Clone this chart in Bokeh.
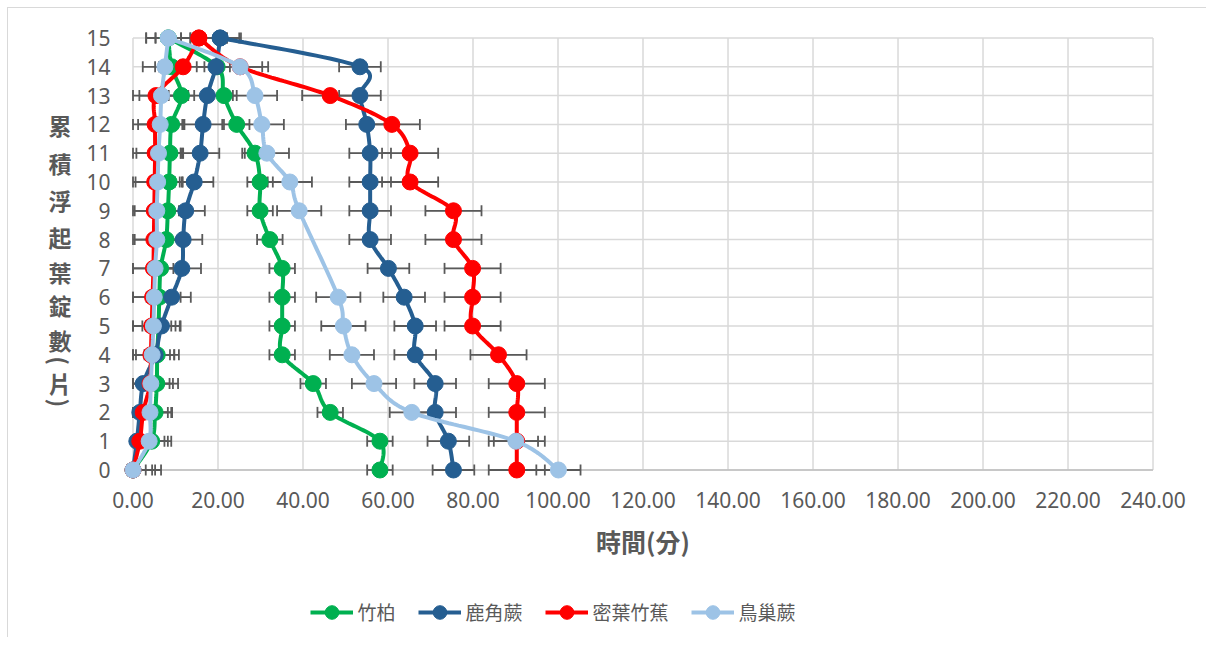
import math
import numpy as np
from bokeh.plotting import figure
from bokeh.models import Range1d, Legend, LegendItem, Whisker, TeeHead, ColumnDataSource
from bokeh.core.properties import value
from bokeh.embed import file_html
from bokeh.resources import INLINE

# ---------------- data ----------------
counts = list(range(16))  # cumulative number of floating leaf discs (y)
y_tick_labels = [str(c) for c in counts]
x_ticks = [0, 20, 40, 60, 80, 100, 120, 140, 160, 180, 200, 220, 240]
x_tick_labels = [f"{v:.2f}" for v in x_ticks]

series_names = ["竹柏", "鹿角蕨", "密葉竹蕉", "鳥巢蕨"]

# time (min) at which each count was reached; two curves per species
bamboo_fast = [0, 4.4, 5.2, 5.6, 5.7, 6.0, 6.2, 6.5, 7.8, 8.2, 8.5, 8.7, 9.1, 11.4, 9.1, 8.3]
bamboo_slow = [58.1, 58.1, 46.4, 42.4, 35.1, 35.1, 35.1, 35.1, 32.2, 29.9, 29.9, 28.7, 24.4, 21.4, 19.8, 8.3]
staghorn_fast = [0, 0.9, 1.6, 2.4, 5.2, 6.7, 9.1, 11.5, 11.8, 12.4, 14.4, 15.8, 16.5, 17.5, 19.5, 20.5]
staghorn_slow = [75.4, 74.2, 71.1, 71.1, 66.4, 66.4, 63.8, 60.1, 55.8, 55.8, 55.8, 55.8, 55.0, 53.4, 53.4, 20.5]
dracaena_fast = [0, 1.6, 2.4, 4.0, 4.2, 4.4, 4.6, 4.8, 4.9, 5.0, 5.1, 5.2, 5.2, 5.4, 11.8, 15.5]
dracaena_slow = [90.3, 90.3, 90.3, 90.3, 86.0, 79.9, 79.9, 79.9, 75.4, 75.4, 65.2, 65.2, 60.9, 46.4, 25.2, 15.5]
birdnest_fast = [0, 3.8, 4.0, 4.2, 4.5, 4.8, 5.0, 5.2, 5.6, 5.6, 5.8, 6.0, 6.4, 6.7, 7.5, 8.3]
birdnest_slow = [100.1, 90.1, 65.6, 56.7, 51.5, 49.5, 48.3, None, None, 39.1, 36.9, 31.5, 30.3, 28.7, 25.2, 8.3]

# error (± min) per species
bamboo_err = [3.0] * 16
staghorn_fast_err = [4.5] * 16
staghorn_slow_err = [4.9] * 16
dracaena_err = [6.6] * 16
birdnest_err = [5.2] * 16

# vertical y-axis title "累積浮起葉錠數(片)", one upright character per line
ylabel_chars = ["累", "積", "浮", "起", "葉", "錠", "數", "(", "片", ")"]
ylabel_pos = [11.98, 10.66, 9.38, 8.09, 6.88, 5.73, 4.51, 3.80, 3.02, 2.33]
ylabel_rot = [0, 0, 0, 0, 0, 0, 0, -math.pi / 2, 0, -math.pi / 2]
x_title = "時間(分)"

colors = ["#00B050", "#255E91", "#FF0000", "#9DC3E6"]
TEXT = "#595959"
GRID = "#d9d9d9"
CJK = "Noto Sans CJK TC"

groups = [
    (bamboo_fast, bamboo_slow, bamboo_err, bamboo_err),
    (staghorn_fast, staghorn_slow, staghorn_fast_err, staghorn_slow_err),
    (dracaena_fast, dracaena_slow, dracaena_err, dracaena_err),
    (birdnest_fast, birdnest_slow, birdnest_err, birdnest_err),
]


def smooth(xs, ys, n=24):
    pts = np.array([(x, y) for x, y in zip(xs, ys) if x is not None], float)
    P = np.vstack([pts[0], pts, pts[-1]])
    outx, outy = [], []
    m = len(P)
    for i in range(1, m - 2):
        p0, p1, p2, p3 = P[i - 1], P[i], P[i + 1], P[i + 2]
        c1 = p1 + (p2 - p0) / 6.0
        c2 = p2 - (p3 - p1) / 6.0
        t = np.linspace(0, 1, n, endpoint=(i == m - 3))[:, None]
        b = ((1 - t) ** 3) * p1 + 3 * ((1 - t) ** 2) * t * c1 + 3 * (1 - t) * t ** 2 * c2 + t ** 3 * p2
        outx.extend(b[:, 0])
        outy.extend(b[:, 1])
    return outx, outy


# the plotting frame fills the whole figure; axes texts are drawn in data space
p = figure(width=1199, height=630, output_backend="svg", toolbar_location=None,
           x_range=Range1d(-29.294, 252.82), y_range=Range1d(-5.851, 16.024),
           min_border_left=0, min_border_right=0, min_border_top=0, min_border_bottom=0)
p.styles = {"border-top": "1.5px solid #d9d9d9", "border-left": "1.5px solid #d9d9d9",
            "margin-left": "7px", "margin-top": "7px"}
p.outline_line_color = None
p.xgrid.visible = False
p.ygrid.visible = False
p.xaxis.visible = False
p.yaxis.visible = False

# gridlines only over the 0-240 x 0-15 area
p.segment(x0=x_ticks, x1=x_ticks, y0=[0] * len(x_ticks), y1=[15] * len(x_ticks),
          line_color=GRID, line_width=1.5, level="image")
p.segment(x0=[0] * len(counts), x1=[240] * len(counts), y0=counts, y1=counts,
          line_color=GRID, line_width=1.5, level="image")
p.segment(x0=[0], x1=[240], y0=[0], y1=[0], line_color="#bfbfbf", line_width=1.6, level="image")

# tick labels and titles
p.text(x=x_ticks, y=[-1.04] * len(x_ticks), text=x_tick_labels, text_align="center",
       text_baseline="middle", text_font=value("Noto Sans"), text_font_size="21px",
       text_color=TEXT)
p.text(x=[-5.3] * len(counts), y=counts, text=y_tick_labels, text_align="right",
       text_baseline="middle", text_font=value("Noto Sans"), text_font_size="21px",
       text_color=TEXT)
p.text(x=[120], y=[-2.47], text=[x_title], text_align="center", text_baseline="middle",
       text_font=value(CJK), text_font_size="25px", text_font_style="bold", text_color=TEXT)
p.text(x=[-17.2] * len(ylabel_chars), y=ylabel_pos, text=ylabel_chars, angle=ylabel_rot,
       text_align="center", text_baseline="middle", text_font=value(CJK),
       text_font_size="23px", text_font_style="bold", text_color=TEXT)

# error bars
for fast, slow, efast, eslow in groups:
    for xs, es in ((fast, efast), (slow, eslow)):
        yy = [c for c, x in zip(counts, xs) if x is not None]
        xx = [x for x in xs if x is not None]
        ee = [e for e, x in zip(es, xs) if x is not None]
        src = ColumnDataSource(dict(y=yy, lo=[max(x - e, 0) for x, e in zip(xx, ee)],
                                    hi=[x + e for x, e in zip(xx, ee)]))
        w = Whisker(source=src, base="y", lower="lo", upper="hi", dimension="width",
                    line_color="#595959", line_width=1.8,
                    upper_head=TeeHead(size=11, line_color="#595959", line_width=1.8),
                    lower_head=TeeHead(size=11, line_color="#595959", line_width=1.8))
        p.add_layout(w)

items = []
for (fast, slow, _, _), col, name in zip(groups, colors, series_names):
    rends = []
    for xs in (fast, slow):
        sx, sy = smooth(xs, counts)
        lr = p.line(sx, sy, line_color=col, line_width=4)
        xx = [x for x in xs if x is not None]
        yy = [c for c, x in zip(counts, xs) if x is not None]
        sr = p.scatter(xx, yy, size=16, marker="circle", fill_color=col, line_color=col)
        rends.append((lr, sr))
    items.append(LegendItem(label=name, renderers=[rends[0][0], rends[0][1]]))

legend = Legend(items=items, orientation="horizontal", location=(301.5, 9.5),
                label_text_font=CJK, label_text_font_size="19px", label_text_color=TEXT,
                glyph_width=43, glyph_height=34, label_standoff=5, spacing=22,
                padding=0, margin=0, border_line_color=None, background_fill_alpha=0)
p.add_layout(legend, "center")

open("out.html", "w").write(file_html(p, INLINE))
